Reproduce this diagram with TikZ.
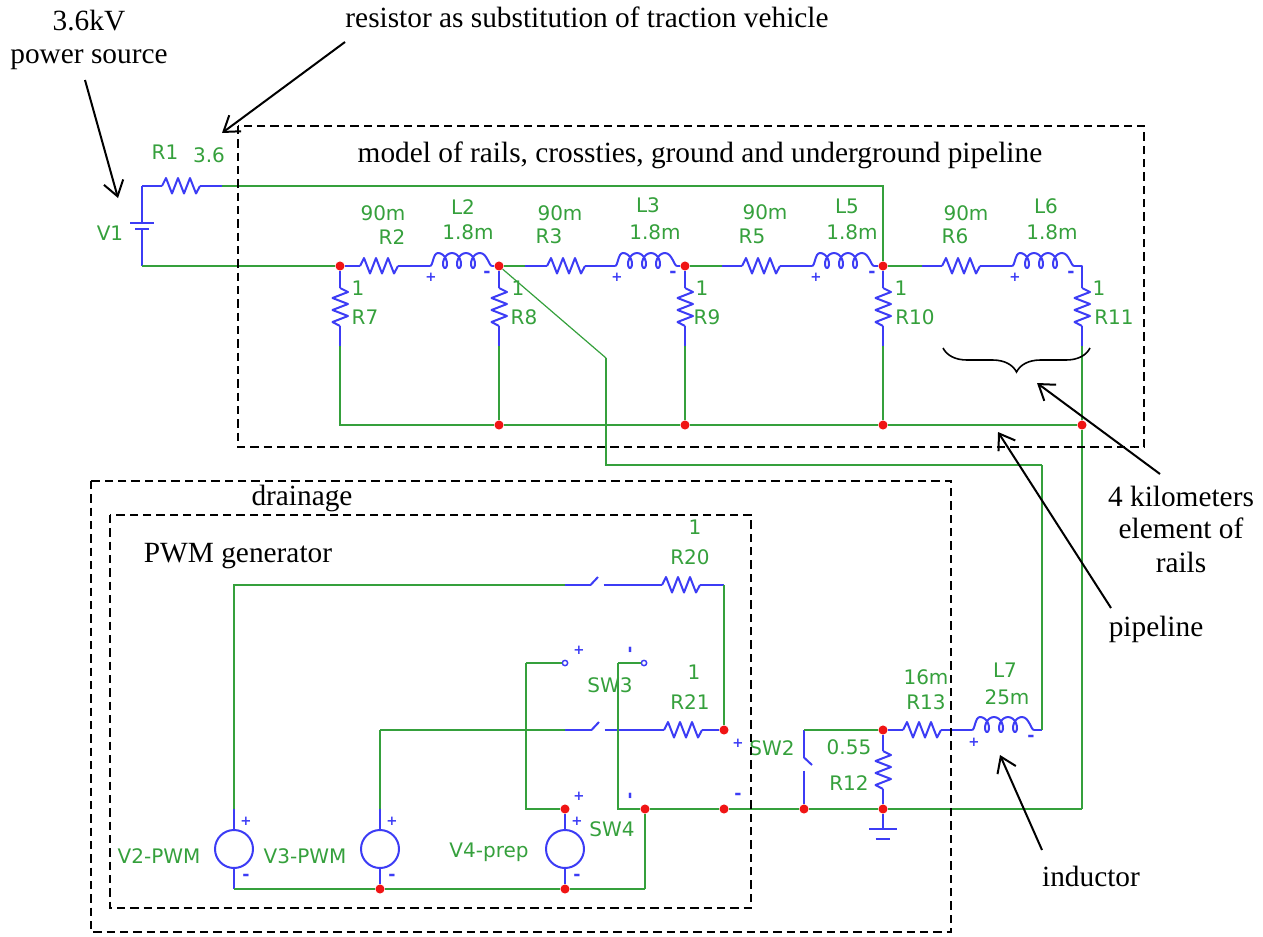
\documentclass[tikz,border=0pt]{standalone}
\usepackage{fontspec}
\setmainfont{Liberation Serif}
\newfontfamily\schfont{DejaVu Sans}
\usetikzlibrary{arrows.meta,decorations.pathreplacing}
\definecolor{wiregreen}{HTML}{35A03C}
\definecolor{partblue}{HTML}{3C3CF5}
\definecolor{nodered}{HTML}{F01414}

\tikzset{
  wire/.style={draw=wiregreen, line width=1.5pt, line join=miter},
  thinwire/.style={draw=wiregreen, line width=0.9pt},
  lead/.style={draw=partblue, line width=1.5pt, line join=round},
  jdot/.style={circle, fill=nodered, inner sep=0pt, minimum size=6.8pt},
  vsrc/.style={circle, draw=partblue, fill=white, line width=1.5pt, inner sep=0pt, minimum size=28.5pt},
  term/.style={circle, draw=partblue, fill=white, line width=1.1pt, inner sep=0pt, minimum size=4pt},
  lbl/.style={text=wiregreen, inner sep=0pt, font=\schfont\fontsize{15}{17}\selectfont},
  note/.style={text=black, inner sep=0pt, anchor=base, font=\fontsize{22}{26}\selectfont},
  signp/.style={text=partblue, inner sep=0pt, font=\schfont\bfseries\fontsize{10}{10}\selectfont},
  signm/.style={text=partblue, inner sep=0pt, font=\schfont\bfseries\fontsize{13}{13}\selectfont},
  dashbox/.style={draw=black, line width=1.6pt, dash pattern=on 6.2pt off 3.8pt},
  pointer/.style={draw=black, line width=1.5pt, -{Straight Barb[length=11pt,width=15pt]}},
  resh/.pic={
    \coordinate (-l) at (-19,0);
    \coordinate (-r) at (19,0);
    \draw[lead] (-l) -- (-15,-8) -- (-9,7.5) -- (-3,-8) -- (3,7.5) -- (9,-8) -- (15,7.5) -- (-r);
  },
  indh/.pic={
    \coordinate (-l) at (-31,0);
    \coordinate (-r) at (31,0);
    \draw[lead] (-l) .. controls (-28,0) and (-28,-13) .. (-23,-13);
    \draw[lead, smooth] plot[domain=-180:900, samples=55]
      ({\x/360*14-14-2-5*sin(\x)}, {-5.5+7.5*cos(\x)});
    \draw[lead] (-r) .. controls (28,0) and (26,-13) .. (19,-13);
  },
  swbl/.pic={
    \coordinate (-l) at (-6.5,0);
    \coordinate (-r) at (6.5,0);
    \draw[lead] (-l) -- (1,-8);
  },
}

\begin{document}
\begin{tikzpicture}[x=0.75pt, y=-0.75pt]
  \useasboundingbox (0,0) rectangle (1263,936);

  % Junctions
  \foreach \n/\x/\y in {na/340/266, nb/499/266, nc/685/266, nd/883/266, ne/499/425, nf/685/425, ng/883/425, nh/1082/425,
      nk/724/730, nz/883/730, ns/565/809, nt/645/809, nu/724/809, nv/804/809, nw/883/809, nr/380/889, nq/565/889} {
    \node[jdot] (\n) at (\x,\y) {};
  }

  % Free corners of the wires
  \foreach \n/\x/\y in {v1t/142/186, v1b/142/266, r1g/222/186, l5g/525/266, l3g/722/266, l6g/922/266, l6c/1082/266,
      p1/606/358, p3/1042/465, l7g/1042/730, c7/1082/809, c1/526/663, c2/618/663, c3/645/889, c4/234/889,
      v2t/234/809, v3t/380/809, sa/565/585, sb/565/730, v3c/380/730, c5/724/585, c6/804/730,
      gnd/883/829} {
    \coordinate (\n) at (\x,\y);
  }

  % Battery
  \coordinate (v1p) at (142,223);
  \coordinate (v1m) at (142,229);
  \draw[lead] (v1t) -- (v1p);
  \draw[lead] (v1m) -- (v1b);
  \draw[lead] ([xshift=-9pt]v1p) -- ([xshift=9pt]v1p);
  \draw[lead] ([xshift=-5pt]v1m) -- ([xshift=5pt]v1m);

  % Resistors and inductors
  \pic (r1) at (181,186) {resh};
  \foreach \n/\x in {r2/379, r3/566, r5/761, r6/961} {
    \pic (\n) at (\x,266) {resh};
  }
  \foreach \n/\x in {l2/461, l3/646, l5/843, l6/1043} {
    \pic (\n) at (\x,266) {indh};
  }
  \foreach \n/\x in {r7/340, r8/499, r9/685, r10/883, r11/1082} {
    \pic[rotate=-90] (\n) at (\x,307) {resh};
    \coordinate (\n-g) at (\x,346);
    \draw[lead] (\n-r) -- (\n-g);
  }
  \pic (r13) at (922,730) {resh};
  \pic (l7) at (1003,730) {indh};
  \pic[rotate=-90] (r12) at (883,770) {resh};
  \pic (r20) at (681,585) {resh};
  \pic (r21) at (683,730) {resh};

  % Switches and sources
  \pic (sw0) at (597,585) {swbl};
  \pic (sw1) at (598,730) {swbl};
  \pic[rotate=-90] (sw2) at (804,764) {swbl};
  \node[term] (t1) at (565,663) {};
  \node[term] (t2) at (644,663) {};
  \node[vsrc] (v2) at (234,849) {};
  \node[vsrc] (v3) at (380,849) {};
  \node[vsrc] (v4) at (565,849) {};

  % Part leads
  \draw[lead] (v1t) -- (r1-l);
  \draw[lead] (r1-r) -- (r1g);
  \draw[lead] (na) -- (r2-l);
  \draw[lead] (r2-r) -- (l2-l);
  \draw[lead] (l2-r) -- (nb);
  \draw[lead] (l5g) -- (r3-l);
  \draw[lead] (r3-r) -- (l3-l);
  \draw[lead] (l3-r) -- (nc);
  \draw[lead] (l3g) -- (r5-l);
  \draw[lead] (r5-r) -- (l5-l);
  \draw[lead] (l5-r) -- (nd);
  \draw[lead] (l6g) -- (r6-l);
  \draw[lead] (r6-r) -- (l6-l);
  \draw[lead] (l6-r) -- (l6c) -- (r11-l);
  \draw[lead] (na) -- (r7-l);
  \draw[lead] (nb) -- (r8-l);
  \draw[lead] (nc) -- (r9-l);
  \draw[lead] (nd) -- (r10-l);
  \draw[lead] (nz) -- (r13-l);
  \draw[lead] (r13-r) -- (l7-l);
  \draw[lead] (l7-r) -- (l7g);
  \draw[lead] (nz) -- (r12-l);
  \draw[lead] (r12-r) -- (nw);
  \draw[lead] (nw) -- (gnd);
  \draw[lead] ([xshift=-10.5pt]gnd) -- ([xshift=10.5pt]gnd);
  \draw[lead] ([xshift=-5.5pt,yshift=-7.5pt]gnd) -- ([xshift=5.5pt,yshift=-7.5pt]gnd);
  \draw[lead] (sa) -- (sw0-l);
  \draw[lead] (sw0-r) -- (r20-l);
  \draw[lead] (r20-r) -- (c5);
  \draw[lead] (sb) -- (sw1-l);
  \draw[lead] (sw1-r) -- (r21-l);
  \draw[lead] (r21-r) -- (nk);
  \draw[lead] (c6) -- (sw2-l);
  \draw[lead] (sw2-r) -- (nv);
  \draw[lead] (v2t) -- (v2);
  \draw[lead] (v2) -- (c4);
  \draw[lead] (v3t) -- (v3);
  \draw[lead] (v3) -- (nr);
  \draw[lead] (ns) -- (v4);
  \draw[lead] (v4) -- (nq);

  % Green wires
  \draw[wire] (r1g) -| (nd);
  \draw[wire] (v1b) -- (na);
  \draw[wire] (nb) -- (l5g);
  \draw[wire] (nc) -- (l3g);
  \draw[wire] (nd) -- (l6g);
  \draw[wire] (r7-g) |- (ne);
  \draw[wire] (r8-g) -- (ne);
  \draw[wire] (r9-g) -- (nf);
  \draw[wire] (r10-g) -- (ng);
  \draw[wire] (r11-g) -- (nh);
  \draw[wire] (ne) -- (nf);
  \draw[wire] (nf) -- (ng);
  \draw[wire] (ng) -- (nh);
  \draw[thinwire] (nb) -- (p1);
  \draw[wire] (p1) |- (p3);
  \draw[wire] (p3) -- (l7g);
  \draw[wire] (nh) -- (c7);
  \draw[wire] (c7) -- (nw);
  \draw[wire] (nw) -- (nv);
  \draw[wire] (nv) -- (nu);
  \draw[wire] (nu) -- (nt);
  \draw[wire] (nt) -| (c2);
  \draw[wire] (c2) -- (t2);
  \draw[wire] (ns) -| (c1);
  \draw[wire] (c1) -- (t1);
  \draw[wire] (nt) -- (c3);
  \draw[wire] (c3) -- (nq);
  \draw[wire] (nq) -- (nr);
  \draw[wire] (nr) -- (c4);
  \draw[wire] (v2t) |- (sa);
  \draw[wire] (v3t) -- (v3c);
  \draw[wire] (v3c) -- (sb);
  \draw[wire] (c5) -- (nk);
  \draw[wire] (nz) -- (c6);

  % Green labels
  \foreach \n/\x/\y/\t in {tr1/165/152/R1, tr1v/209/155/3.6, tv1/110/233/V1,
      tr2v/383/213/90m, tr2/392/237/R2, tl2/463/207/L2, tl2v/468/232/1.8m,
      tr3v/560/213/90m, tr3/549/236/R3, tl3/648/205/L3, tl3v/655/232/1.8m,
      tr5v/765/212/90m, tr5/752/236/R5, tl5/847/206/L5, tl5v/852/232/1.8m,
      tr6v/966/213/90m, tr6/955/236/R6, tl6/1046/206/L6, tl6v/1052/232/1.8m,
      tr7v/358/288/1, tr7/365/317/R7, tr8v/518/288/1, tr8/524/317/R8,
      tr9v/702/288/1, tr9/707/317/R9, tr10v/901/288/1, tr10/915/317/R10,
      tr11v/1099/288/1, tr11/1114/317/R11,
      tr20v/695/527/1, tr20/690/557/R20, tr21v/694/672/1, tr21/690/702/R21,
      tsw3/610/685/SW3, tsw2/772/748/SW2, tsw4/612/829/SW4,
      tr12v/849/747/0.55, tr12/849/783/R12, tr13v/926/677/16m, tr13/926/702/R13,
      tl7/1005/670/L7, tl7v/1007/697/25m,
      tv2/159/856/V2-PWM, tv3/305/856/V3-PWM, tv4/489/852/V4-prep} {
    \node[lbl] (\n) at (\x,\y) {\t};
  }

  % Polarity marks
  \foreach \n/\x/\y in {pl2/431/277, pl3/617/277, pl5/816/277, pl6/1015/277, pl7/974/742, psw2/738/743,
      psw3/579/650, psw4/579/796, pv2/246/821, pv3/392/821, pv4/577/821} {
    \node[signp] (\n) at (\x,\y) {+};
  }
  \foreach \n/\x/\y in {ml2/487/274, ml3/673/274, ml5/872/274, ml6/1071/274, ml7/1031/738, msw2/738/796,
      mv2/246/877, mv3/392/877, mv4/577/877} {
    \node[signm] (\n) at (\x,\y) {-};
  }
  \node[signm, rotate=90] (msw3) at (632,650) {-};
  \node[signm, rotate=90] (msw4) at (632,796) {-};

  % Dashed frames
  \draw[dashbox] (238,126) rectangle (1144,447);
  \draw[dashbox] (91,481) rectangle (951,932);
  \draw[dashbox] (110,515) rectangle (751,908);

  % Black notes
  \node[note] (nsrc) at (89,30) {3.6kV};
  \node[note] (nsrc2) at (89,63) {power source};
  \node[note] (nres) at (587,27) {resistor as substitution of traction vehicle};
  \node[note] (nmod) at (700,162) {model of rails, crossties, ground and underground pipeline};
  \node[note] (ndrn) at (302,505) {drainage};
  \node[note] (npwm) at (238,562) {PWM generator};
  \node[note] (nkm1) at (1181,506) {4 kilometers};
  \node[note] (nkm2) at (1181,538) {element of};
  \node[note] (nkm3) at (1181,572) {rails};
  \node[note] (npip) at (1156,636) {pipeline};
  \node[note] (nind) at (1091,886) {inductor};

  % Pointers
  \foreach \n/\sx/\sy/\ex/\ey in {a1/85/80/118/198, a2/345/42/222/133, a3/1160/474/1037/383,
      a4/1111/608/998/432, a5/1042/850/1000/755} {
    \coordinate (\n s) at (\sx,\sy);
    \coordinate (\n e) at (\ex,\ey);
    \draw[pointer] (\n s) -- (\n e);
  }

  % Brace over the rail element
  \coordinate (bra) at (1090,348);
  \coordinate (brb) at (943,348);
  \draw[black, line width=1.2pt, decorate, decoration={brace, amplitude=18pt}] (bra) -- (brb);
\end{tikzpicture}
\end{document}
